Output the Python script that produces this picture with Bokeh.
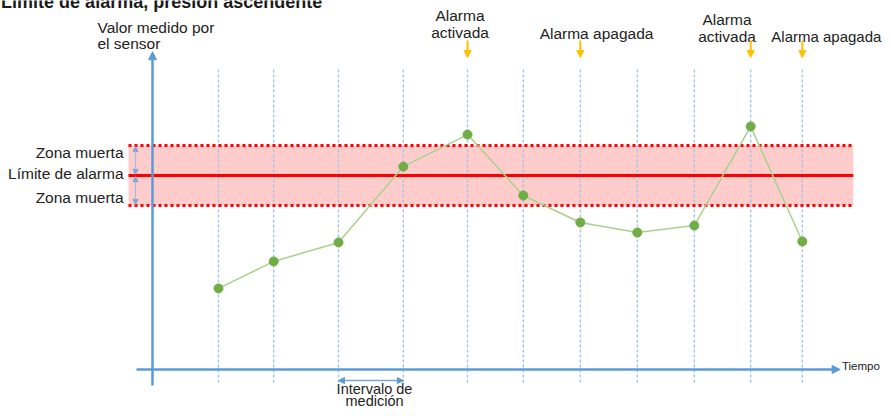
from bokeh.plotting import figure
from bokeh.models import Range1d, Arrow, NormalHead
from bokeh.core.properties import value
from bokeh.embed import file_html
from bokeh.resources import INLINE

# ---- data ----
times = [11, 20.2, 31, 41.8, 52.5, 61.8, 71.3, 80.8, 90.3, 99.7, 108.3]
values = [41.8, 55.7, 65.5, 104.6, 121.1, 89.7, 75.8, 70.6, 74.2, 125.3, 66.0]
alarm_limit = 100.0
dead_zone = 15.5
event_index = [4, 6, 9, 10]
zone_labels = ["Zona muerta", "Límite de alarma", "Zona muerta"]
title_text = "Límite de alarma, presión ascendente"

# ---- layout ----
X0, X1 = -25.33, 121.83
Y0, Y1 = -20.10, 190.21
FONT = value("Liberation Sans")
FS = "15.5px"
TXT = "#222222"
BLUE = "#5B9BD5"
LBLUE = "#9DC3E6"
RED = "#FF0000"
YEL = "#FFC000"

p = figure(width=883, height=408, x_range=Range1d(X0, X1), y_range=Range1d(Y0, Y1),
           output_backend="svg", toolbar_location=None, min_border=0,
           x_axis_type=None, y_axis_type=None, outline_line_color=None)
p.xgrid.visible = False
p.ygrid.visible = False
p.background_fill_color = "white"

# band (dead zone)
band_left, band_right = -4.0, 116.8
p.quad(left=[band_left], right=[band_right], bottom=[alarm_limit - dead_zone],
       top=[alarm_limit + dead_zone], fill_color="#FFCCCC", line_color=None)

# measurement interval lines
p.segment(x0=times, y0=[-6.7] * len(times), x1=times, y1=[155.7] * len(times),
          line_color=LBLUE, line_width=1.3, line_dash="3 2")

# dead zone borders and alarm limit
for yv in (alarm_limit - dead_zone, alarm_limit + dead_zone):
    p.segment(x0=[band_left], y0=[yv], x1=[band_right], y1=[yv],
              line_color=RED, line_width=3, line_dash="3 3")
p.segment(x0=[band_left], y0=[alarm_limit], x1=[band_right], y1=[alarm_limit],
          line_color=RED, line_width=3)

# axes as arrows
p.add_layout(Arrow(end=NormalHead(size=8, fill_color=BLUE, line_color=BLUE),
                   x_start=0, y_start=-8.2, x_end=0, y_end=163.8,
                   line_color=BLUE, line_width=2.5))
p.add_layout(Arrow(end=NormalHead(size=8, fill_color=BLUE, line_color=BLUE),
                   x_start=-2.67, y_start=0, x_end=114.6, y_end=0,
                   line_color=BLUE, line_width=2.5))

# dead zone arrows
for a, b in ((alarm_limit + dead_zone, alarm_limit), (alarm_limit, alarm_limit - dead_zone)):
    p.add_layout(Arrow(start=NormalHead(size=5, fill_color="#7EA6D8", line_color="#7EA6D8"),
                       end=NormalHead(size=5, fill_color="#7EA6D8", line_color="#7EA6D8"),
                       x_start=-2.83, y_start=a - 0.6, x_end=-2.83, y_end=b + 0.6,
                       line_color="#9DBDE3", line_width=1.2))

# measurement interval arrow
p.add_layout(Arrow(start=NormalHead(size=6, fill_color=BLUE, line_color=BLUE),
                   end=NormalHead(size=6, fill_color=BLUE, line_color=BLUE),
                   x_start=times[2], y_start=-5.7, x_end=times[3], y_end=-5.7,
                   line_color="#7EA6D8", line_width=1.5))

# event arrows
for i in event_index:
    p.add_layout(Arrow(end=NormalHead(size=7, fill_color=YEL, line_color=YEL),
                       x_start=times[i], y_start=169.6, x_end=times[i], y_end=160.8,
                       line_color=YEL, line_width=2))

# measured series
p.line(times, values, line_color="#A9D18E", line_width=1.5)
p.scatter(times, values, marker="circle", size=9, fill_color="#70AD47", line_color="#70AD47")

# texts
def txt(x, y, s, size=FS, align="left", baseline="middle", style="normal", color=TXT):
    p.text(x=[x], y=[y], text=[s], text_font=FONT, text_font_size=size,
           text_align=align, text_baseline=baseline, text_font_style=style, text_color=color)

txt(X0 + 0.1, Y1 - 12 / 1.94, title_text, size="18px", baseline="bottom", style="bold", color="#1a1a1a")
txt(-9.17, 176.3, "Valor medido por")
txt(-9.17, 168.0, "el sensor")
txt(114.9, 2.0, "Tiempo", size="11.5px")
txt(-4.83, alarm_limit + 11.9, zone_labels[0], align="right")
txt(-4.83, alarm_limit + 1.0, zone_labels[1], align="right")
txt(-4.83, alarm_limit - 11.3, zone_labels[2], align="right")

mid_iv = (times[2] + times[3]) / 2
txt(mid_iv + 0.6, -10.3, "Intervalo de", size="14.5px", align="center")
txt(mid_iv + 0.6, -16.0, "medición", size="14.5px", align="center")

txt(times[4] - 1.25, 182.5, "Alarma", align="center")
txt(times[4] - 1.25, 173.7, "activada", align="center")
txt(times[6] + 2.7, 173.2, "Alarma apagada", align="center")
txt(times[9] - 3.95, 180.4, "Alarma", align="center")
txt(times[9] - 3.95, 171.6, "activada", align="center")
txt(X1 - 0.35, 171.6, "Alarma apagada", size="15px", align="right")

open("out.html", "w").write(file_html(p, INLINE))
